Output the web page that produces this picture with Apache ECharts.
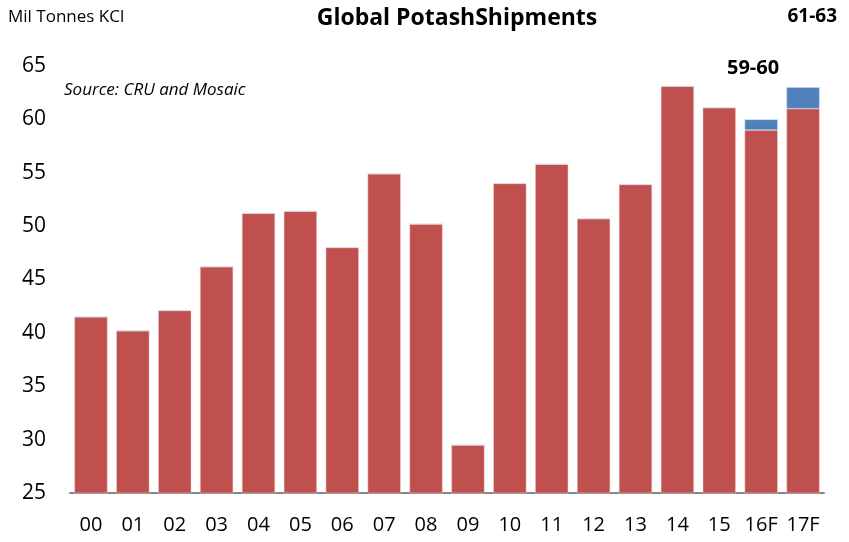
<!DOCTYPE html>
<html>
<head>
<meta charset="utf-8">
<script src="https://cdn.jsdelivr.net/npm/echarts@6/dist/echarts.min.js"></script>
<style>
  html, body { margin: 0; padding: 0; background: #fff; }
  #chart { width: 849px; height: 542px; }
</style>
</head>
<body>
<div id="chart"></div>
<script>
const years = ['00', '01', '02', '03', '04', '05', '06', '07', '08', '09', '10', '11', '12', '13', '14', '15', '16F', '17F']
// 实际/预测下限（红色）
const shipments = [41.5, 40.2, 42.1, 46.2, 51.2, 51.4, 48.0, 54.9, 50.2, 29.5, 54.0, 55.8, 50.7, 53.9, 63.1, 61.1, 59, 61]
// 预测区间上限差值（蓝色）
const rangeTop = [0, 0, 0, 0, 0, 0, 0, 0, 0, 0, 0, 0, 0, 0, 0, 0, 1, 2]
const yTicks = { min: 25, max: 65, interval: 5 }

const font = "'Open Sans', 'Liberation Sans', sans-serif"
const chart = echarts.init(document.getElementById('chart'))
chart.setOption({
    animation: false,
    textStyle: { fontFamily: font },
    title: {
        text: 'Global PotashShipments',
        left: 452,
        textAlign: 'center',
        top: 2,
        textStyle: { fontSize: 23, fontWeight: 'bold', color: '#000', fontFamily: font }
    },
    graphic: [
        { type: 'text', left: 8, top: 9, style: { text: 'Mil Tonnes KCl', fontSize: 17, fill: '#000', fontFamily: font } },
        { type: 'text', left: 64, top: 82, style: { text: 'Source: CRU and Mosaic', fontSize: 17, fontStyle: 'italic', fill: '#000', fontFamily: font } },
        { type: 'text', right: 12, top: 7, style: { text: '61-63', fontSize: 19, fontWeight: 'bold', fill: '#000', fontFamily: font } },
        { type: 'text', left: 727, top: 58, style: { text: '59-60', fontSize: 20, fontWeight: 'bold', fill: '#000', fontFamily: font } }
    ],
    grid: { left: 70, right: 25, top: 66, bottom: 49 },
    xAxis: {
        type: 'category',
        data: years,
        axisLine: { lineStyle: { color: '#868686', width: 2 } },
        axisTick: { show: false },
        axisLabel: { color: '#000', fontSize: 20, margin: 22, interval: 0, hideOverlap: false, fontFamily: font }
    },
    yAxis: {
        type: 'value',
        min: yTicks.min,
        max: yTicks.max,
        interval: yTicks.interval,
        axisLine: { show: false },
        axisTick: { show: false },
        splitLine: { show: false },
        axisLabel: { color: '#000', fontSize: 21, margin: 24, fontFamily: font }
    },
    series: [
        {
            type: 'bar',
            stack: 'total',
            data: shipments,
            barCategoryGap: '21%',
            itemStyle: { color: '#C0504D', borderColor: '#ecd0d0', borderWidth: 0.5 }
        },
        {
            type: 'bar',
            stack: 'total',
            data: rangeTop,
            itemStyle: { color: '#4F81BD', borderColor: '#cfdcef', borderWidth: 0.5 }
        }
    ]
})
</script>
</body>
</html>
